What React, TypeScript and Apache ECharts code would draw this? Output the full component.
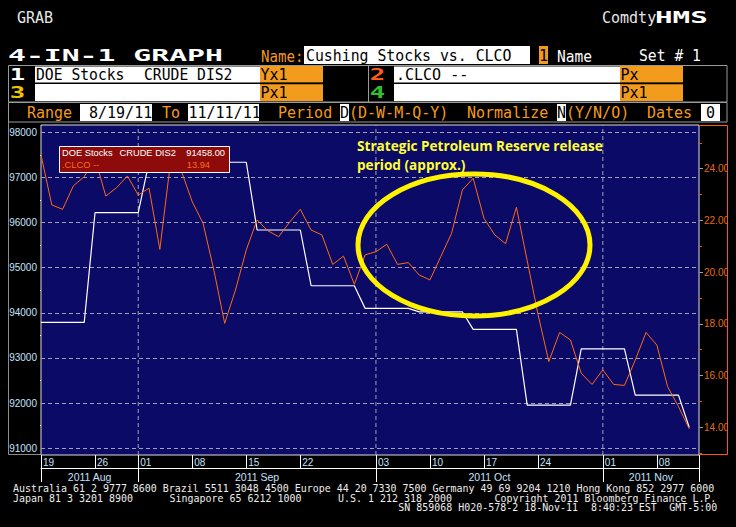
import React, { useEffect, useRef } from "react";
import * as echarts from "echarts";

// ---------------- data ----------------
const tradingDates: string[] = [
  "2011-08-19", "2011-08-22", "2011-08-23", "2011-08-24", "2011-08-25", "2011-08-26", "2011-08-29", "2011-08-30", "2011-08-31",
  "2011-09-01", "2011-09-02", "2011-09-05", "2011-09-06", "2011-09-07", "2011-09-08", "2011-09-09",
  "2011-09-12", "2011-09-13", "2011-09-14", "2011-09-15", "2011-09-16",
  "2011-09-19", "2011-09-20", "2011-09-21", "2011-09-22", "2011-09-23",
  "2011-09-26", "2011-09-27", "2011-09-28", "2011-09-29", "2011-09-30",
  "2011-10-03", "2011-10-04", "2011-10-05", "2011-10-06", "2011-10-07",
  "2011-10-10", "2011-10-11", "2011-10-12", "2011-10-13", "2011-10-14",
  "2011-10-17", "2011-10-18", "2011-10-19", "2011-10-20", "2011-10-21",
  "2011-10-24", "2011-10-25", "2011-10-26", "2011-10-27", "2011-10-28", "2011-10-31",
  "2011-11-01", "2011-11-02", "2011-11-03", "2011-11-04",
  "2011-11-07", "2011-11-08", "2011-11-09", "2011-11-10", "2011-11-11",
];

// DOE Stocks CRUDE DIS2 (left axis, weekly values held daily)
const doeStocks: number[] = [
  93787, 93787, 93787, 93787, 93787,
  96217, 96217, 96217, 96217, 96217,
  97335, 97335, 97335, 97335, 97335, 97335, 97335, 97335, 97335, 97335,
  95834, 95834, 95834, 95834, 95834,
  94599, 94599, 94599, 94599, 94599,
  94098, 94098, 94098, 94098, 94098,
  94022, 94022, 94022, 94022, 94022,
  93632, 93632, 93632, 93632, 93632,
  91953, 91953, 91953, 91953, 91953,
  93202, 93202, 93202, 93202, 93202,
  92175, 92175, 92175, 92175, 92175,
  91458,
];

// .CLCO -- (right axis)
const clco: number[] = [
  24.53, 22.60, 22.43, 23.34, 23.69, 24.40, 22.94, 23.27, 23.72,
  22.98, 23.25, 20.88, 24.30, 23.90, 22.72, 21.89, 20.08, 18.02, 19.31, 20.86,
  22.02, 21.60, 21.37, 21.93, 22.43, 21.63, 21.44, 20.30, 20.62, 19.53, 20.67,
  20.79, 21.08, 20.30, 20.37, 19.89, 19.70, 20.60, 21.50, 23.18, 23.63,
  22.08, 21.44, 21.10, 22.51, 20.44, 18.37, 16.54, 17.67, 17.38, 16.09, 15.66,
  16.22, 15.66, 15.62, 16.60, 17.67, 17.18, 15.57, 14.80, 13.94,
];

const weekTickDates: string[] = [
  "2011-08-19", "2011-08-26", "2011-09-01", "2011-09-08", "2011-09-15", "2011-09-22",
  "2011-10-03", "2011-10-10", "2011-10-17", "2011-10-24", "2011-11-01", "2011-11-08",
];
const monthLabels: string[] = ["2011 Aug", "2011 Sep", "2011 Oct", "2011 Nov"];
const monthStartDates: string[] = ["2011-08-19", "2011-09-01", "2011-10-03", "2011-11-01"];
const leftTicks: number[] = [91000, 92000, 93000, 94000, 95000, 96000, 97000, 98000];
const leftMinorTicks: number[] = [91500, 92500, 93500, 94500, 95500, 96500, 97500];
const rightTicks: number[] = [14, 16, 18, 20, 22, 24];
const rightMinorTicks: number[] = [13, 15, 17, 19, 21, 23, 25];

const seriesNames = { doe: "DOE Stocks  CRUDE DIS2", clco: ".CLCO --" };

// ---------------- layout / style ----------------
const X_MAX = 60.9;
const L_MIN = 90850;
const L_MAX = 98160;
const R_MIN = 12.93;
const R_MAX = 25.69;
const MONO = "'DejaVu Sans Mono', 'Liberation Mono', monospace";
const SANS = "'Liberation Sans', Arial, sans-serif";
const ORANGE = "#f29b1d";
const AXIS_BLUE = "#c4e2ff";
const CL_ORANGE = "#ff6a12";

function txt(x: number, y: number, text: string, fill: string, o: any = {}) {
  const size = o.size ?? 15;
  const align = o.align ?? "left";
  return {
    type: "text",
    x,
    y,
    z: o.z ?? 50,
    scaleX: o.sx ?? 1,
    silent: true,
    style: {
      text,
      fill,
      font: `${o.bold ? "bold " : ""}${size}px ${o.family ?? MONO}`,
      textAlign: align,
      align,
      textVerticalAlign: "middle",
      verticalAlign: "middle",
    },
  };
}
function rect(x: number, y: number, w: number, h: number, fill: string, stroke?: string, z = 40) {
  return {
    type: "rect",
    z,
    silent: true,
    shape: { x, y, width: w, height: h },
    style: { fill, stroke: stroke ?? null, lineWidth: 1 },
  };
}
function seg(x1: number, y1: number, x2: number, y2: number, stroke: string, w = 1, z = 45) {
  return { type: "line", z, silent: true, shape: { x1, y1, x2, y2 }, style: { stroke, lineWidth: w } };
}

export default function App() {
  const ref = useRef<HTMLDivElement>(null);

  useEffect(() => {
    if (!ref.current) return;
    const chart = echarts.init(ref.current, undefined, { renderer: "svg" });

    const weekTickIdx = weekTickDates.map((d) => tradingDates.indexOf(d));
    const weekLabels = weekTickDates.map((d) => d.slice(8));
    const monthStartIdx = monthStartDates.map((d) => tradingDates.indexOf(d));
    const monthBounds = [...monthStartIdx, X_MAX];
    const monthCenters = monthStartIdx.map((s, i) => (s + monthBounds[i + 1]) / 2);

    const weekFmt = (v: number) => {
      const k = weekTickIdx.indexOf(Math.round(v));
      return k >= 0 ? weekLabels[k] : "";
    };
    const monthFmt = (v: number) => {
      let best = 0;
      monthCenters.forEach((c, i) => {
        if (Math.abs(c - v) < Math.abs(monthCenters[best] - v)) best = i;
      });
      return monthLabels[best];
    };

    const dash = { color: "#a0a0b0", width: 1, type: [4, 3] as any };
    const lastDoe = doeStocks[doeStocks.length - 1].toFixed(2);
    const lastCl = clco[clco.length - 1].toFixed(2);
    const LG = 9.3;

    const graphic: any[] = [
      // top bar
      txt(17, 17.5, "GRAB", "#e6e6e6"),
      txt(602, 17.5, "Comdty", "#e6e6e6"),
      txt(655, 17.5, "HMS", "#ffffff", { bold: true, sx: 1.95 }),
      // title row
      txt(8, 56, "4-IN-1 GRAPH", "#ffffff", { bold: true, size: 16, sx: 1.86 }),
      txt(261, 56, "Name:", ORANGE, { sx: 0.94 }),
      rect(304, 46, 226, 18, "#ffffff"),
      txt(306, 56, "Cushing Stocks vs. CLCO", "#000000", { sx: 0.99 }),
      rect(539, 46, 9, 18, ORANGE),
      txt(543.5, 56, "1", "#000000", { align: "center" }),
      txt(557, 56, "Name", "#ffffff", { sx: 0.97 }),
      txt(639, 56, "Set # 1", "#ffffff", { sx: 0.98 }),
      // series box
      rect(8.5, 65.5, 718.5, 36.5, "#000000", "#9a9a9a", 38),
      rect(35, 66.5, 225, 34.5, "#ffffff"),
      rect(394, 66.5, 226, 34.5, "#ffffff"),
      rect(260, 66, 63, 16.8, ORANGE),
      rect(260, 84.3, 63, 16.6, ORANGE),
      rect(620, 66, 63, 16.8, ORANGE),
      rect(620, 84.3, 63, 16.6, ORANGE),
      seg(35, 83.3, 683, 83.3, "#000000", 1.5),
      seg(368.5, 65.5, 368.5, 102, "#9a9a9a"),
      txt(17.5, 74.5, "1", "#ffffff", { bold: true, size: 16, sx: 1.6, align: "center" }),
      txt(17.5, 92.5, "3", "#f0c400", { bold: true, size: 16, sx: 1.6, align: "center" }),
      txt(377.5, 74.5, "2", "#ff5a1e", { bold: true, size: 16, sx: 1.6, align: "center" }),
      txt(377.5, 92.5, "4", "#2fbf2f", { bold: true, size: 16, sx: 1.6, align: "center" }),
      txt(36, 74.5, "DOE Stocks", "#000000", { sx: 0.98 }),
      txt(144, 74.5, "CRUDE DIS2", "#000000", { sx: 0.98 }),
      txt(260.5, 74.5, "Yx1", "#000000"),
      txt(260.5, 92.5, "Px1", "#000000"),
      txt(396, 74.5, ".CLCO --", "#000000"),
      txt(620.5, 74.5, "Px", "#000000"),
      txt(620.5, 92.5, "Px1", "#000000"),
      // range row
      rect(8.5, 102.5, 718.5, 19.5, "#000000", "#9a9a9a", 38),
      txt(27, 112.5, "Range", ORANGE),
      rect(80, 104, 72, 17, "#ffffff"),
      txt(89, 112.5, "8/19/11", "#000000"),
      txt(162, 112.5, "To", ORANGE),
      rect(188, 104, 71, 17, "#ffffff"),
      txt(188.5, 112.5, "11/11/11", "#000000"),
      txt(278, 112.5, "Period", ORANGE),
      rect(340, 104, 9, 17, "#ffffff"),
      txt(340, 112.5, "D", "#000000"),
      txt(349, 112.5, "(D-W-M-Q-Y)", ORANGE),
      txt(467, 112.5, "Normalize", ORANGE),
      rect(557, 104, 9, 17, "#ffffff"),
      txt(557, 112.5, "N", "#000000"),
      txt(566, 112.5, "(Y/N/O)", ORANGE),
      txt(647, 112.5, "Dates", ORANGE),
      rect(701, 104, 19, 17, "#ffffff"),
      txt(710.5, 112.5, "0", "#000000", { align: "center" }),
      // left frame
      seg(8.5, 122, 8.5, 454.5, "#8c8c8c"),
      seg(8.5, 454.5, 41, 454.5, "#8c8c8c"),
      // right axis frame
      rect(728, 120, 8, 345, "#000000", undefined, 90),
      {
        type: "polyline",
        z: 95,
        silent: true,
        shape: { points: [[699, 125.5], [727.5, 125.5], [727.5, 454.5], [699, 454.5]] },
        style: { stroke: "#ff5a00", lineWidth: 1, fill: null },
      },
      // legend box
      rect(59.5, 146.5, 170, 26, "#8e0b0b", "#ffffff", 70),
      txt(62, 153, "DOE Stocks", "#ffffff", { family: SANS, size: LG, z: 71 }),
      txt(119.5, 153, "CRUDE DIS2", "#ffffff", { family: SANS, size: LG, z: 71 }),
      txt(225, 153, lastDoe, "#ffffff", { family: SANS, size: LG, align: "right", z: 71 }),
      txt(62, 164.5, seriesNames.clco, "#ff6a1a", { family: SANS, size: LG, z: 71 }),
      txt(210, 164.5, lastCl, "#ff6a1a", { family: SANS, size: LG, align: "right", z: 71 }),
      // annotation
      {
        type: "ellipse",
        z: 60,
        silent: true,
        shape: { cx: 474, cy: 245, rx: 116, ry: 71 },
        style: { fill: null, stroke: "#fff200", lineWidth: 5 },
      },
      txt(357, 145, "Strategic Petroleum Reserve release", "#ffff33", { family: "'Open Sans', sans-serif", bold: true, size: 13.6, z: 61 }),
      txt(357, 164.5, "period (approx.)", "#ffff33", { family: "'Open Sans', sans-serif", bold: true, size: 13.6, z: 61 }),
    ];

    // footer
    const C = (col: number) => 13 + col * 6.02;
    const F = { size: 11, sx: 0.906, z: 50 };
    const foot = "#eeeeee";
    graphic.push(
      txt(C(0), 487.5, "Australia 61 2 9777 8600 Brazil 5511 3048 4500 Europe 44 20 7330 7500 Germany 49 69 9204 1210 Hong Kong 852 2977 6000", foot, F),
      txt(C(0), 497.5, "Japan 81 3 3201 8900", foot, F),
      txt(C(26), 497.5, "Singapore 65 6212 1000", foot, F),
      txt(C(54), 497.5, "U.S. 1 212 318 2000", foot, F),
      txt(C(80), 497.5, "Copyright 2011 Bloomberg Finance L.P.", foot, F),
      txt(C(64), 506.5, "SN 859068 H020-578-2 18-Nov-11", foot, F),
      txt(C(96), 506.5, "8:40:23 EST", foot, F),
      txt(C(109), 506.5, "GMT-5:00", foot, F)
    );

    const noLine = { show: false, onZero: false };

    // vertical month-boundary gridlines, drawn as dashed line series on the axes' scales
    const monthGridSeries = monthStartIdx.slice(1).map((i) => ({
      type: "line",
      xAxisIndex: 0,
      yAxisIndex: 0,
      data: [
        [i, L_MIN],
        [i, L_MAX],
      ],
      symbol: "none",
      silent: true,
      lineStyle: dash,
      z: 1,
    }));

    const option: any = {
      animation: false,
      backgroundColor: "#000000",
      grid: {
        left: 41,
        top: 125,
        width: 658,
        height: 330,
        show: true,
        backgroundColor: "#0b0a66",
        borderColor: "#dcdcdc",
        borderWidth: 1,
      },
      xAxis: [
        {
          type: "value",
          min: 0,
          max: X_MAX,
          position: "bottom",
          axisLine: noLine,
          axisTick: { show: true, customValues: [...weekTickIdx, X_MAX], length: 13, lineStyle: { color: "#ffffff", width: 1 } },
          axisLabel: {
            show: true,
            customValues: weekTickIdx,
            formatter: weekFmt,
            color: AXIS_BLUE,
            fontSize: 10,
            fontFamily: SANS,
            align: "left",
            margin: 2,
            padding: [0, 0, 0, 2],
          },
          splitLine: { show: false },
        },
        {
          type: "value",
          min: 0,
          max: X_MAX,
          position: "bottom",
          offset: 13,
          axisLine: { show: true, onZero: false, lineStyle: { color: "#ffffff", width: 1 } },
          axisTick: { show: true, customValues: monthBounds, length: 14, lineStyle: { color: "#ffffff", width: 1 } },
          axisLabel: {
            show: true,
            customValues: monthCenters,
            formatter: monthFmt,
            color: AXIS_BLUE,
            fontSize: 10.5,
            fontFamily: SANS,
            align: "center",
            margin: 3,
          },
          splitLine: { show: false },
        },
      ],
      yAxis: [
        {
          type: "value",
          min: L_MIN,
          max: L_MAX,
          position: "left",
          axisLine: noLine,
          axisTick: { show: false, customValues: leftTicks },
          axisLabel: {
            customValues: leftTicks,
            formatter: (v: number) => String(v),
            color: AXIS_BLUE,
            fontSize: 10,
            fontFamily: SANS,
            margin: 4,
          },
          splitLine: { show: true, lineStyle: dash },
        },
        {
          type: "value",
          min: R_MIN,
          max: R_MAX,
          position: "right",
          axisLine: noLine,
          axisTick: { show: true, customValues: rightTicks, length: 4, lineStyle: { color: "#9a9a9a" } },
          axisLabel: {
            customValues: rightTicks,
            formatter: (v: number) => v.toFixed(2),
            color: "#e46e0a",
            fontSize: 10,
            fontFamily: SANS,
            margin: 5,
          },
          splitLine: { show: false },
        },
        {
          type: "value",
          min: R_MIN,
          max: R_MAX,
          position: "right",
          axisLine: noLine,
          axisTick: { show: true, customValues: rightMinorTicks, length: 3, lineStyle: { color: "#e05a00" } },
          axisLabel: { show: false },
          splitLine: { show: false },
        },
        {
          type: "value",
          min: L_MIN,
          max: L_MAX,
          position: "left",
          axisLine: noLine,
          axisTick: { show: true, customValues: leftMinorTicks, length: 1, lineStyle: { color: "#ffffff" } },
          axisLabel: { show: false },
          splitLine: { show: false },
        },
      ],
      series: [
        ...monthGridSeries,
        {
          type: "line",
          name: seriesNames.doe,
          xAxisIndex: 0,
          yAxisIndex: 0,
          data: doeStocks.map((v, i) => [i, v]),
          symbol: "none",
          lineStyle: { color: "#ffffff", width: 1.2 },
          z: 3,
        },
        {
          type: "line",
          name: seriesNames.clco,
          xAxisIndex: 0,
          yAxisIndex: 1,
          data: clco.map((v, i) => [i, v]),
          symbol: "none",
          lineStyle: { color: CL_ORANGE, width: 1 },
          z: 4,
        },
      ],
      graphic,
    };

    chart.setOption(option);
    return () => chart.dispose();
  }, []);

  return (
    <div
      ref={ref}
      style={{ position: "fixed", left: 0, top: 0, width: 736, height: 527, background: "#000" }}
    />
  );
}
